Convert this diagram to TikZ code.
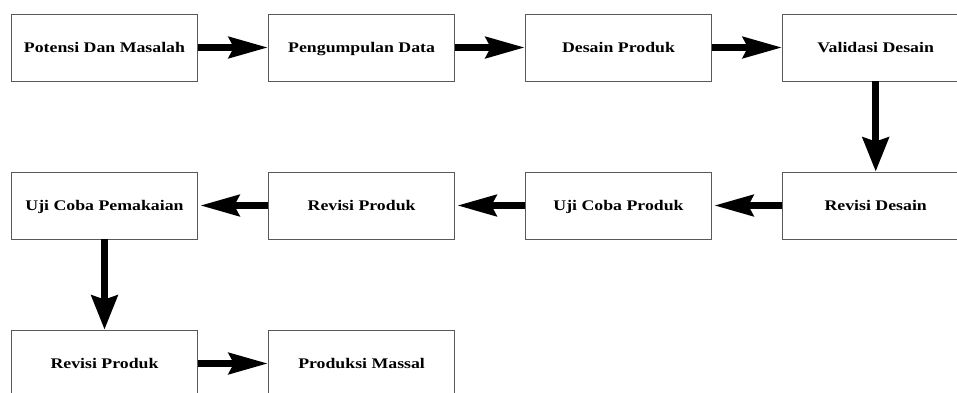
\documentclass[tikz,border=0pt]{standalone}
\usepackage{fontspec}
\setmainfont{Liberation Serif}[FakeStretch=1.21]
\usetikzlibrary{arrows.meta}
\tikzset{
  stage/.style={draw=black!65, line width=0.9pt, rectangle,
    minimum width=186.5pt, minimum height=67pt, inner sep=0pt,
    text height=9.7pt, text depth=0pt,
    font=\fontsize{14.7}{17}\selectfont\bfseries},
  flowh/.style={line width=7pt, -{Stealth[length=39pt, width=21pt, inset=5pt]}},
  flowv/.style={line width=7pt, -{Stealth[length=34pt, width=26pt, inset=4pt]}}
}
\begin{document}
\begin{tikzpicture}[x=1pt, y=-1pt]
  \useasboundingbox (0,0) rectangle (957,392);
  \clip (0,0) rectangle (957,392);
  \fill[white] (0,0) rectangle (957,392);

  % first row
  \node[stage] (potensi)  at (104.5,47.5) {Potensi Dan Masalah};
  \node[stage] (kumpul)   at (361.6,47.5) {Pengumpulan Data};
  \node[stage] (desain)   at (618.5,47.5) {Desain Produk};
  \node[stage] (validasi) at (875.7,47.5) {Validasi Desain};

  % second row
  \node[stage] (ujipakai)  at (104.5,205.5) {Uji Coba Pemakaian};
  \node[stage] (revprod)   at (361.6,205.5) {Revisi Produk};
  \node[stage] (ujiprod)   at (618.5,205.5) {Uji Coba Produk};
  \node[stage] (revdesain) at (875.7,205.5) {Revisi Desain};

  % third row
  \node[stage] (revprod2) at (104.5,363.5) {Revisi Produk};
  \node[stage] (massal)   at (361.6,363.5) {Produksi Massal};

  % connectors
  \draw[flowh] (potensi) -- (kumpul);
  \draw[flowh] (kumpul) -- (desain);
  \draw[flowh] (desain) -- (validasi);
  \draw[flowv] (validasi) -- (revdesain);
  \draw[flowh, shorten >=2pt] (revdesain) -- (ujiprod);
  \draw[flowh, shorten >=2pt] (ujiprod) -- (revprod);
  \draw[flowh, shorten >=2pt] (revprod) -- (ujipakai);
  \draw[flowv] (ujipakai) -- (revprod2);
  \draw[flowh] (revprod2) -- (massal);
\end{tikzpicture}
\end{document}
